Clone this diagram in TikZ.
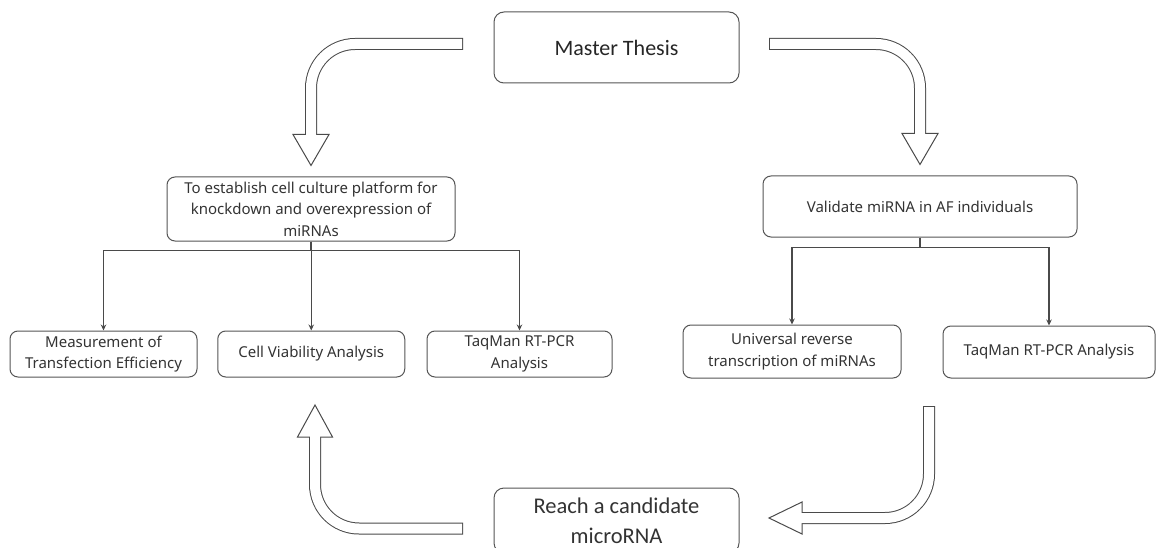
\documentclass[tikz,border=0pt]{standalone}
\usepackage{fontspec}
\setmainfont{Noto Sans}
\newfontfamily\headfont{Carlito}
\usetikzlibrary{arrows.meta,calc}
\definecolor{boxline}{HTML}{555555}
\definecolor{inktext}{HTML}{333333}
\definecolor{arrowline}{HTML}{4A4A4A}
\tikzset{
  % rounded boxes, fixed sizes so the layout follows the sketch
  box/.style={draw=boxline, rounded corners=8pt, line width=1pt, text=inktext,
    align=center, inner sep=0pt, font=\fontsize{15}{21.5}\selectfont},
  bigbox/.style={box, rounded corners=10pt},
  branch/.style={draw=arrowline, line width=1.1pt, -{Stealth[length=6pt,width=5.5pt]}},
  % hollow arrows: dark stroke, white core, open head
  shaftout/.style={line width=12pt, draw=arrowline, rounded corners=44pt},
  shaftin/.style={line width=10pt, draw=white, rounded corners=44pt,
    shorten <=1pt, shorten >=-1.5pt},
  arrowhead/.style={draw=arrowline, fill=white, line width=1pt, line join=miter}
}
% tail, turn, head base, tip, half width of the head
\newcommand{\hollowarrow}[5]{%
  \draw[arrowhead] ($(#3)+#5$) -- (#4) -- ($(#3)-#5$) -- cycle;
  \draw[shaftout] (#1) #2 (#3);
  \draw[shaftin] (#1) #2 (#3);
}

\begin{document}
\begin{tikzpicture}[x=1pt, y=1pt]
\useasboundingbox (0,0) rectangle (1158,547);

% Top and goals
\node[bigbox, minimum width=245, minimum height=71, text=black!85,
  font=\headfont\fontsize{22}{26}\selectfont] (master) at (616.5,499.5) {Master Thesis};
\node[box, minimum width=288, minimum height=64] (cellgoal) at (311,338)
  {To establish cell culture platform for\\knockdown and overexpression of\\miRNAs};
\node[box, minimum width=314, minimum height=61] (validgoal) at (920,340.5)
  {Validate miRNA in AF individuals};

% Steps
\node[box, minimum width=187, minimum height=46] (transf) at (103.5,193)
  {Measurement of\\Transfection Efficiency};
\node[box, minimum width=187, minimum height=46] (viab) at (311.25,193)
  {Cell Viability Analysis};
\node[box, minimum width=185, minimum height=46] (taqleft) at (519.5,193)
  {TaqMan RT-PCR\\Analysis};
\node[box, minimum width=218, minimum height=53] (univrt) at (792,195.5)
  {Universal reverse\\transcription of miRNAs};
\node[box, minimum width=212, minimum height=52] (taqright) at (1049,195)
  {TaqMan RT-PCR Analysis};

% Result
\node[bigbox, minimum width=245, minimum height=65,
  font=\headfont\fontsize{22.5}{30}\selectfont] (reach) at (616.5,26.5)
  {Reach a candidate\\microRNA};

% Branches
\foreach \child in {transf, viab, taqleft}
  \draw[branch] (cellgoal.south) -- ++(0,-9) -| (\child.north);
\foreach \child in {univrt, taqright}
  \draw[branch] (validgoal.south) -- ++(0,-10) -| (\child.north);

% Hollow arrows round the cycle
\coordinate (tailA) at (463,503);
\coordinate (tipA) at ([yshift=11pt]cellgoal.north);
\coordinate (baseA) at ($(tipA)+(0,31)$);
\coordinate (tailB) at (769,503);
\coordinate (tipB) at ([yshift=11pt]validgoal.north);
\coordinate (baseB) at ($(tipB)+(0,31)$);
\coordinate (tailC) at (929,141);
\coordinate (tipC) at (769,29);
\coordinate (baseC) at ($(tipC)+(33,0)$);
\coordinate (tailD) at (463,18.5);
\coordinate (tipD) at (315,142);
\coordinate (baseD) at ($(tipD)+(0,-32)$);

\hollowarrow{tailA}{-|}{baseA}{tipA}{(18,0)}
\hollowarrow{tailB}{-|}{baseB}{tipB}{(18,0)}
\hollowarrow{tailC}{|-}{baseC}{tipC}{(0,16)}
\hollowarrow{tailD}{-|}{baseD}{tipD}{(17.5,0)}

\end{tikzpicture}
\end{document}
